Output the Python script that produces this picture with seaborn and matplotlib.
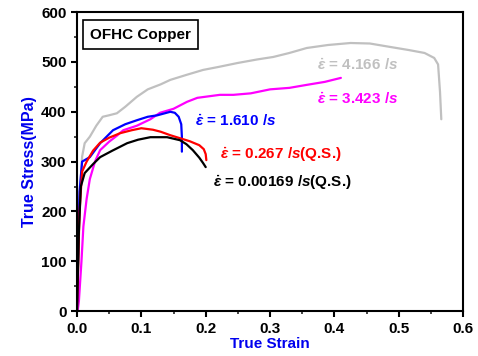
import matplotlib
matplotlib.use("Agg")
import matplotlib.pyplot as plt
import seaborn as sns
from matplotlib.ticker import AutoMinorLocator
from matplotlib.patches import Rectangle

# ---- data ----
gray_x = [0.0, 0.004, 0.008, 0.012, 0.02, 0.03, 0.04, 0.05, 0.062, 0.075, 0.093, 0.11, 0.13, 0.145,
          0.17, 0.196, 0.22, 0.25, 0.28, 0.305, 0.33, 0.357, 0.39, 0.425, 0.455, 0.487, 0.515, 0.54,
          0.555, 0.561, 0.564, 0.566]
gray_y = [0, 220, 310, 337, 350, 372, 390, 393, 397, 410, 430, 445, 455, 464,
          474, 484, 490, 498, 505, 510, 518, 528, 534, 538, 537, 530, 524, 518,
          508, 495, 440, 385]

mag_x = [0.001, 0.003, 0.007, 0.01, 0.015, 0.02, 0.028, 0.036, 0.05, 0.062, 0.072, 0.093, 0.114,
         0.129, 0.15, 0.171, 0.187, 0.222, 0.243, 0.27, 0.3, 0.33, 0.357, 0.385, 0.41]
mag_y = [0, 20, 100, 170, 225, 265, 300, 323, 340, 352, 363, 372, 385,
         398, 406, 420, 428, 434, 434, 437, 445, 448, 454, 460, 468]

blue_x = [0.0, 0.004, 0.008, 0.02, 0.036, 0.056, 0.075, 0.093, 0.11, 0.125, 0.145, 0.152, 0.158,
          0.162, 0.163, 0.163]
blue_y = [0, 240, 300, 309, 337, 363, 375, 383, 390, 393, 400, 398, 390, 375, 350, 320]

red_x = [0.0, 0.004, 0.008, 0.015, 0.025, 0.036, 0.05, 0.067, 0.085, 0.1, 0.118, 0.13, 0.145,
         0.16, 0.175, 0.19, 0.197, 0.2, 0.201]
red_y = [0, 200, 280, 300, 322, 338, 348, 357, 363, 367, 364, 360, 353, 347, 341, 333, 325, 315, 303]

black_x = [0.0, 0.003, 0.006, 0.012, 0.025, 0.036, 0.055, 0.078, 0.095, 0.114, 0.14, 0.16, 0.17,
           0.18, 0.19, 0.196, 0.2]
black_y = [0, 160, 250, 277, 295, 309, 322, 337, 344, 349, 349, 343, 335, 323, 308, 297, 289]

rates = ["4.166", "3.423", "1.610", "0.267", "0.00169"]
suffixes = ["", "", "", "(Q.S.)", "(Q.S.)"]
colors = ["#c0c0c0", "#ff00ff", "#0000ff", "#ff0000", "#000000"]
label_x = [0.373, 0.373, 0.184, 0.222, 0.212]
label_y = [494, 424, 381, 313, 257]

title_text = "OFHC Copper"
x_ticks = [0.0, 0.1, 0.2, 0.3, 0.4, 0.5, 0.6]
y_ticks = [0, 100, 200, 300, 400, 500, 600]

# ---- style ----
sns.set_style("ticks")
plt.rcParams['font.family'] = ['Liberation Sans', 'DejaVu Sans']
plt.rcParams['font.weight'] = 'bold'
plt.rcParams['mathtext.fontset'] = 'custom'
plt.rcParams['mathtext.rm'] = 'Liberation Sans:bold'
plt.rcParams['mathtext.it'] = 'Liberation Sans:bold:italic'
plt.rcParams['mathtext.bf'] = 'Liberation Sans:bold'

fig, ax = plt.subplots(figsize=(4.78, 3.56), dpi=100)
fig.subplots_adjust(left=0.161, right=0.969, bottom=0.126, top=0.966)

series = [(gray_x, gray_y), (mag_x, mag_y), (blue_x, blue_y), (red_x, red_y), (black_x, black_y)]
for (xs, ys), c in zip(series, colors):
    sns.lineplot(x=xs, y=ys, color=c, sort=False, estimator=None, ax=ax, linewidth=1.6)

for r, s, c, lx, ly in zip(rates, suffixes, colors, label_x, label_y):
    ax.text(lx, ly, r"$\dot{\varepsilon}$ = " + r + r" $\mathit{/s}$" + s, color=c,
            fontsize=11, fontweight='bold', va='center', ha='left')

ax.add_patch(Rectangle((0.016, 0.876), 0.297, 0.097, transform=ax.transAxes,
                       fill=False, edgecolor='black', linewidth=1.2))
ax.text(0.165, 0.925, title_text, transform=ax.transAxes, ha='center', va='center',
        fontsize=11, fontweight='bold', color='black')

ax.set_xlim(0, 0.6)
ax.set_ylim(0, 600)
ax.set_xticks(x_ticks)
ax.set_yticks(y_ticks)
ax.set_xticklabels([f"{v:.1f}" for v in x_ticks])
ax.set_yticklabels([str(v) for v in y_ticks])
ax.xaxis.set_minor_locator(AutoMinorLocator(2))
ax.yaxis.set_minor_locator(AutoMinorLocator(2))
ax.tick_params(which='major', direction='out', length=4, width=1.5, labelsize=11, colors='black')
ax.tick_params(which='minor', direction='out', length=2, width=1.2)
for lab in ax.get_xticklabels() + ax.get_yticklabels():
    lab.set_fontweight('bold')
for sp in ax.spines.values():
    sp.set_visible(True)
    sp.set_linewidth(1.5)
    sp.set_color('black')

ax.set_xlabel("True Strain", color='#0000ee', fontsize=11, fontweight='bold', labelpad=1)
ax.set_ylabel("True Stress(MPa)", color='#0000ee', fontsize=11.5, fontweight='bold', labelpad=3)

fig.savefig("out.png", dpi=100)
